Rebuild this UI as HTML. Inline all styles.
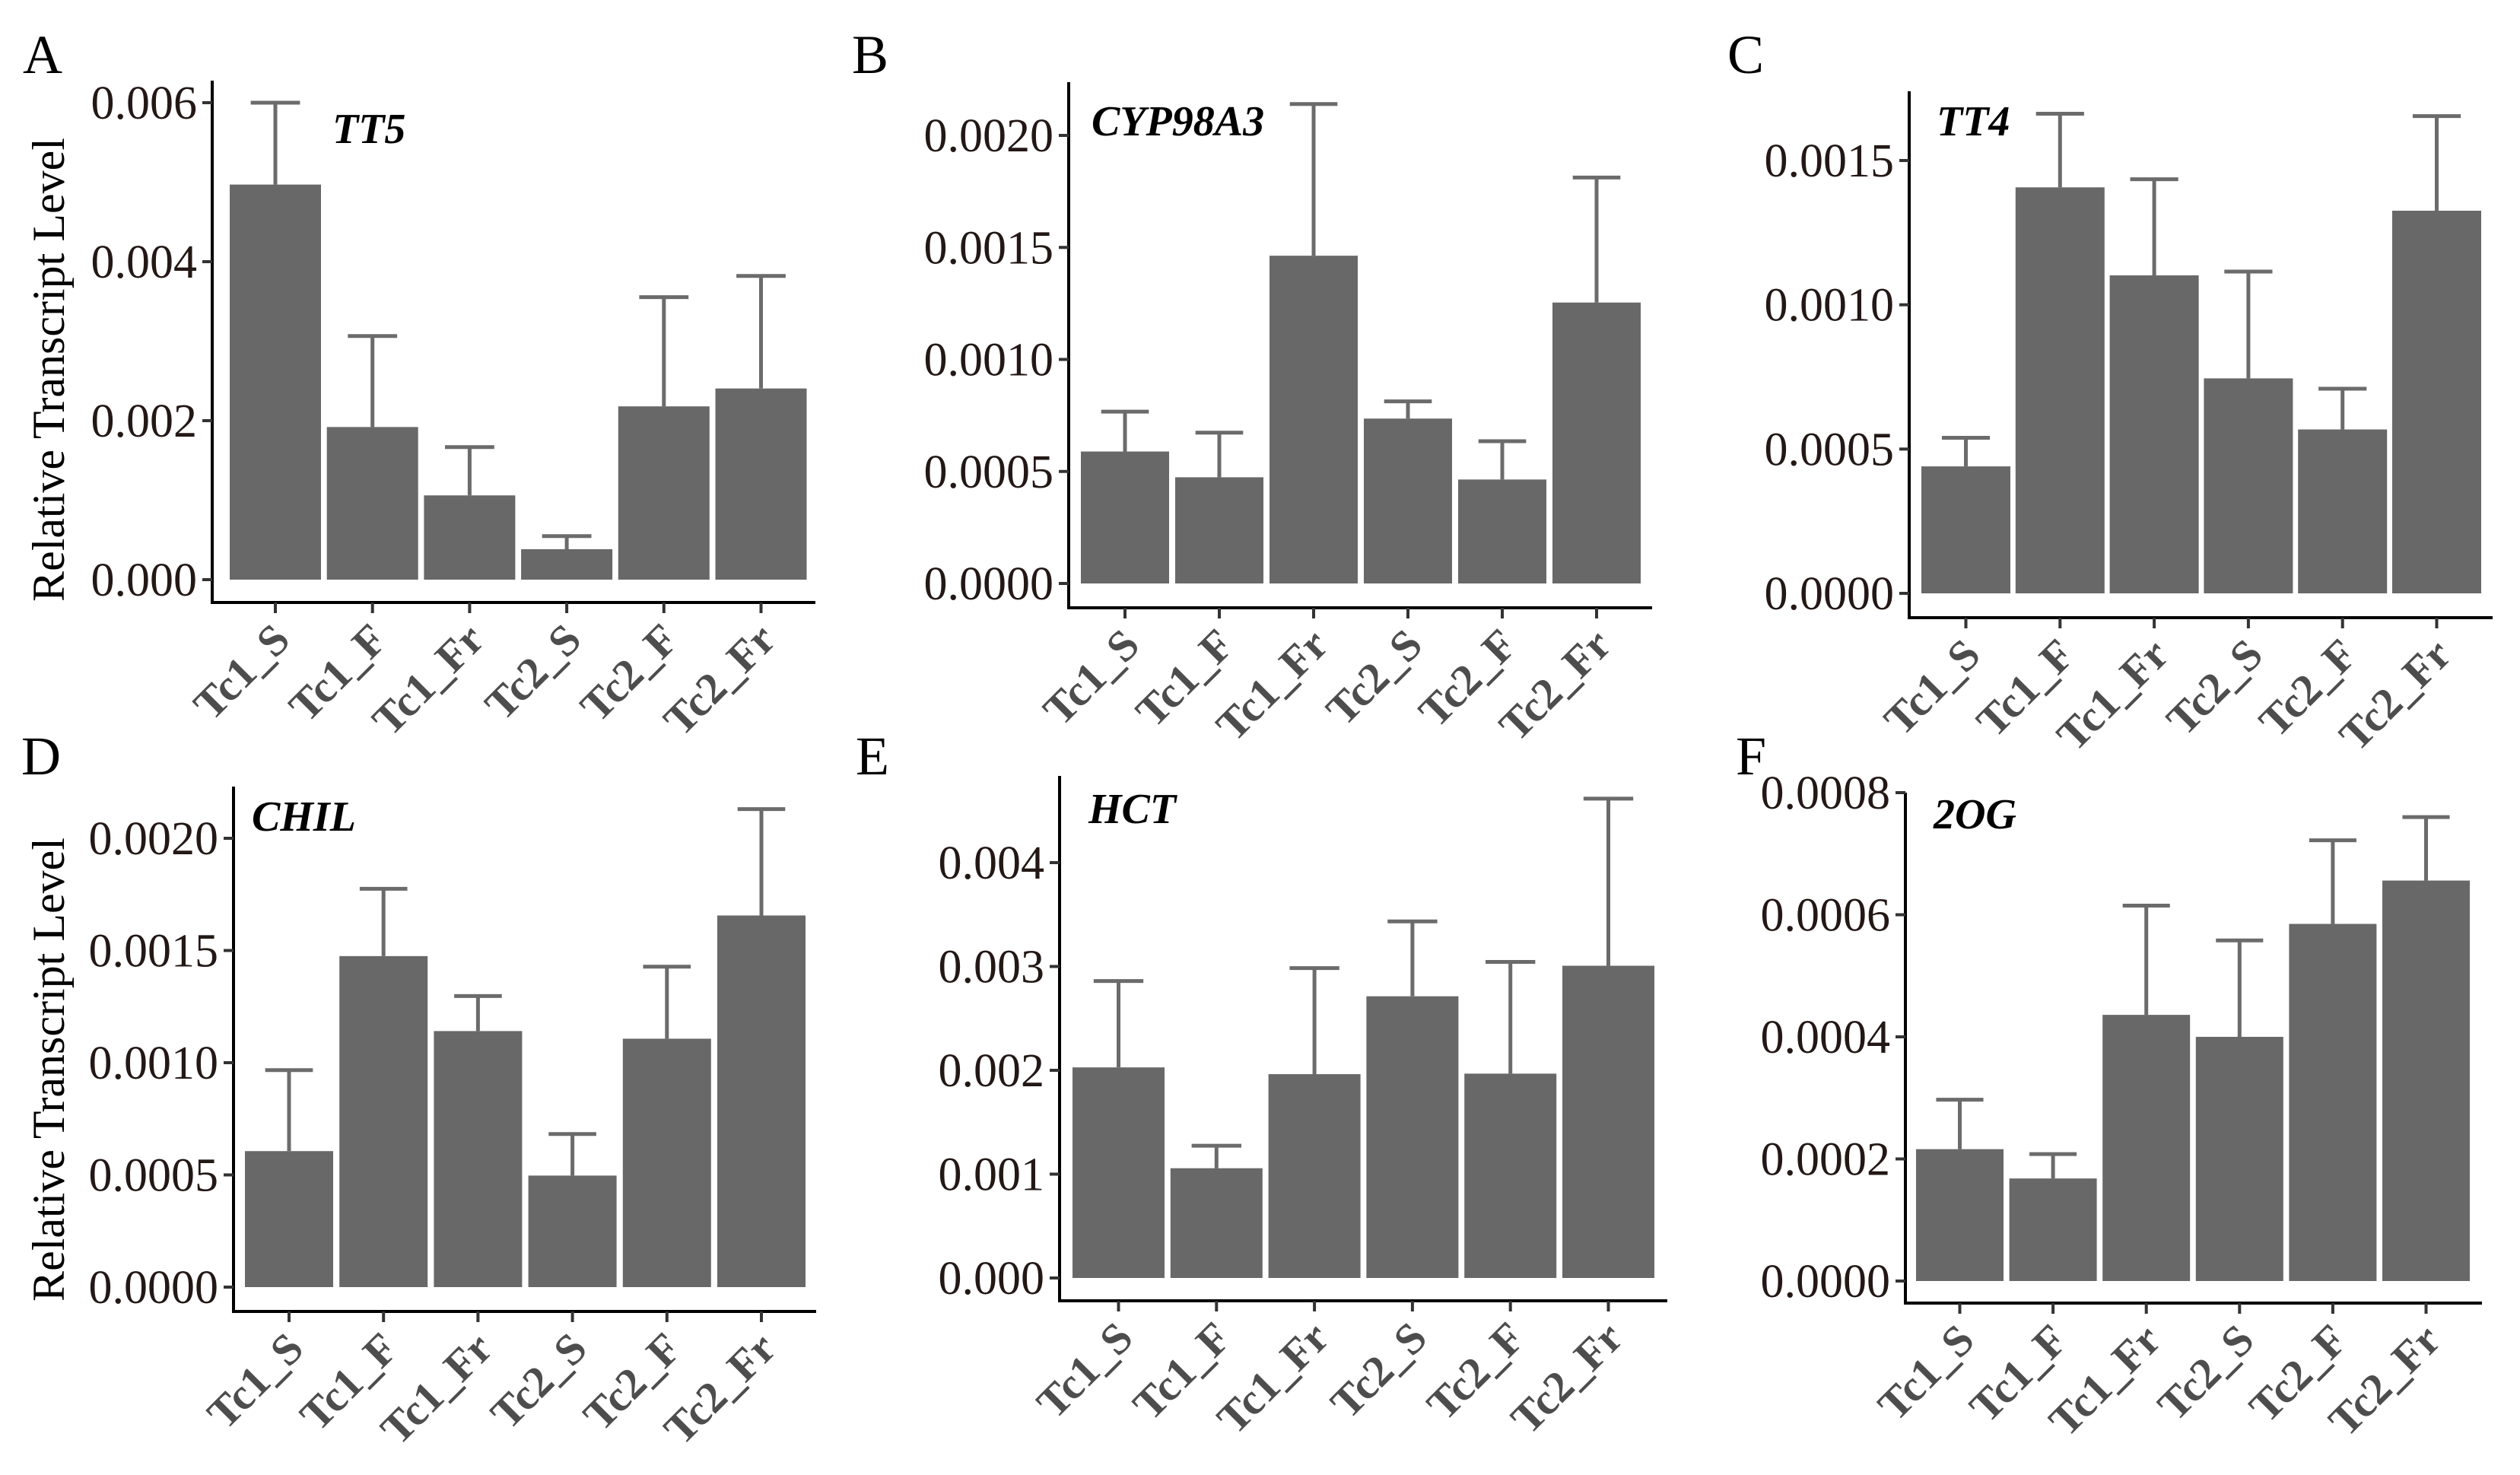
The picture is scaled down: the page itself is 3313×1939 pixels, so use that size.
<!DOCTYPE html>
<html><head><meta charset="utf-8">
<style>
html,body{margin:0;padding:0;background:#fff;}
svg{display:block;}
text{font-family:"Liberation Serif","Times New Roman",serif;}
</style></head>
<body>
<svg id="fig" width="3313" height="1939" viewBox="0 0 3313 1939" xmlns="http://www.w3.org/2000/svg"></svg>
<script>
const categories = ["Tc1_S","Tc1_F","Tc1_Fr","Tc2_S","Tc2_F","Tc2_Fr"];
const geneNames = ["TT5","CYP98A3","TT4","CHIL","HCT","2OG"];
const panelLetters = ["A","B","C","D","E","F"];
const meansA = [0.00497,0.00192,0.00106,0.000383,0.00218,0.002405];
const errsA  = [0.00103,0.001145,0.000608,0.000165,0.001374,0.001415];
const meansB = [0.000589,0.000474,0.001463,0.000736,0.000464,0.001254];
const errsB  = [0.000178,0.000199,0.000677,0.000077,0.000171,0.000558];
const meansC = [0.00044,0.001407,0.001102,0.000745,0.000568,0.001326];
const errsC  = [0.000099,0.000255,0.000333,0.00037,0.000141,0.000328];
const meansD = [0.000606,0.001475,0.001141,0.000497,0.001107,0.001656];
const errsD  = [0.000361,0.0003,0.000156,0.000185,0.000321,0.000474];
const meansE = [0.002028,0.001057,0.001963,0.002713,0.001968,0.003007];
const errsE  = [0.000832,0.000217,0.001021,0.000721,0.001076,0.001609];
const meansF = [0.000216,0.000168,0.000436,0.0004,0.000585,0.000656];
const errsF  = [0.000081,0.00004,0.000179,0.000158,0.000137,0.000104];
const ticksA = [0,0.002,0.004,0.006];
const ticksB = [0,0.0005,0.001,0.0015,0.002];
const ticksC = [0,0.0005,0.001,0.0015];
const ticksD = [0,0.0005,0.001,0.0015,0.002];
const ticksE = [0,0.001,0.002,0.003,0.004];
const ticksF = [0,0.0002,0.0004,0.0006,0.0008];
const tickLabelsA = ["0.000","0.002","0.004","0.006"];
const tickLabelsB = ["0.0000","0.0005","0.0010","0.0015","0.0020"];
const tickLabelsC = ["0.0000","0.0005","0.0010","0.0015"];
const tickLabelsD = ["0.0000","0.0005","0.0010","0.0015","0.0020"];
const tickLabelsE = ["0.000","0.001","0.002","0.003","0.004"];
const tickLabelsF = ["0.0000","0.0002","0.0004","0.0006","0.0008"];
const allMeans=[meansA,meansB,meansC,meansD,meansE,meansF];
const allErrs=[errsA,errsB,errsC,errsD,errsE,errsF];
const allTicks=[ticksA,ticksB,ticksC,ticksD,ticksE,ticksF];
const allTickLabels=[tickLabelsA,tickLabelsB,tickLabelsC,tickLabelsD,tickLabelsE,tickLabelsF];

// layout (pixel geometry, not data)
const layouts=[
 {ax:279,top:106,xy:792,xend:1072,y0:762,y1:135,v1:0.006,b0:302,pitch:127.7,bw:120,lx:30,ly:96,gx:437,gy:188,title:[63,486]},
 {ax:1405,top:108,xy:799,xend:2172,y0:767,y1:178,v1:0.002,b0:1421,pitch:124,bw:116,lx:1120,ly:96,gx:1435,gy:178},
 {ax:2510,top:120,xy:812,xend:3277,y0:780,y1:211,v1:0.0015,b0:2526,pitch:123.8,bw:117,lx:2271,ly:96,gx:2546,gy:178},
 {ax:307,top:1034,xy:1724,xend:1073,y0:1692,y1:1102,v1:0.002,b0:322,pitch:124.2,bw:116,lx:28,ly:1018,gx:331,gy:1092,title:[63,1406]},
 {ax:1393,top:1020,xy:1710,xend:2192,y0:1680,y1:1134,v1:0.004,b0:1410,pitch:128.8,bw:121,lx:1125,ly:1018,gx:1431,gy:1082},
 {ax:2505,top:1042,xy:1713,xend:3263,y0:1684,y1:1042,v1:0.0008,b0:2519,pitch:122.6,bw:115,lx:2282,ly:1018,gx:2542,gy:1089}
];
const NS="http://www.w3.org/2000/svg";
const svg=document.getElementById('fig');
function mk(tag,attrs,parent){const e=document.createElementNS(NS,tag);for(const k in attrs)e.setAttribute(k,attrs[k]);parent.appendChild(e);return e;}

layouts.forEach((L,p)=>{
  const g=mk('g',{},svg);
  
  
  const yScale=v=>L.y0-(v/L.v1)*(L.y0-L.y1);
  const xCenter=i=>L.b0+L.bw/2+i*L.pitch;
  const means=allMeans[p], errs=allErrs[p];
  means.forEach((m,i)=>{
    const r=mk('rect',{x:xCenter(i)-L.bw/2,y:yScale(m),width:L.bw,height:yScale(0)-yScale(m),fill:'#686868'},g);
    
    
  });
  means.forEach((m,i)=>{
    const cx=xCenter(i), ytop=yScale(m+errs[i]);
    const e=mk('g',{stroke:'#6b6b6b','stroke-width':5,fill:'none'},g);
    
    
    mk('line',{x1:cx,y1:yScale(m),x2:cx,y2:ytop},e);
    mk('line',{x1:cx-L.bw*0.27,y1:ytop,x2:cx+L.bw*0.27,y2:ytop},e);
  });
  const ya=mk('line',{x1:L.ax,y1:L.top,x2:L.ax,y2:L.xy+2,stroke:'#000','stroke-width':4},g);
  
  
  const xa=mk('line',{x1:L.ax-2,y1:L.xy,x2:L.xend,y2:L.xy,stroke:'#000','stroke-width':4},g);
  
  
  allTicks[p].forEach((t,k)=>{
    const y=yScale(t);
    mk('line',{x1:L.ax-13,y1:y,x2:L.ax,y2:y,stroke:'#333','stroke-width':4},g);
    const tx=mk('text',{x:L.ax-20,y:y+21,'font-size':62,'text-anchor':'end',fill:'#231815'},g);
    tx.textContent=allTickLabels[p][k];
    
    
  });
  categories.forEach((c,i)=>{
    const x=xCenter(i);
    mk('line',{x1:x,y1:L.xy,x2:x,y2:L.xy+14,stroke:'#333','stroke-width':4},g);
    const ax=x+22, ay=L.xy+52;
    const tx=mk('text',{x:ax,y:ay,'font-size':58,'font-weight':'bold','text-anchor':'end',fill:'#4d4d4d',transform:`rotate(-45 ${ax} ${ay})`},g);
    tx.textContent=c;
    
    
  });
  const lt=mk('text',{x:L.lx,y:L.ly,'font-size':72,fill:'#000'},g);
  lt.textContent=panelLetters[p];
  
  
  const gt=mk('text',{x:L.gx,y:L.gy,'font-size':56,'font-weight':'bold','font-style':'italic',fill:'#000'},g);
  gt.textContent=geneNames[p];
  
  
  if(L.title){
    const tt=mk('text',{x:L.title[0],y:L.title[1],'font-size':60,'text-anchor':'middle',fill:'#000',transform:`rotate(-90 ${L.title[0]} ${L.title[1]})`,dy:21},g);
    tt.textContent='Relative Transcript Level';
    
    
  }
});
</script>
</body></html>
